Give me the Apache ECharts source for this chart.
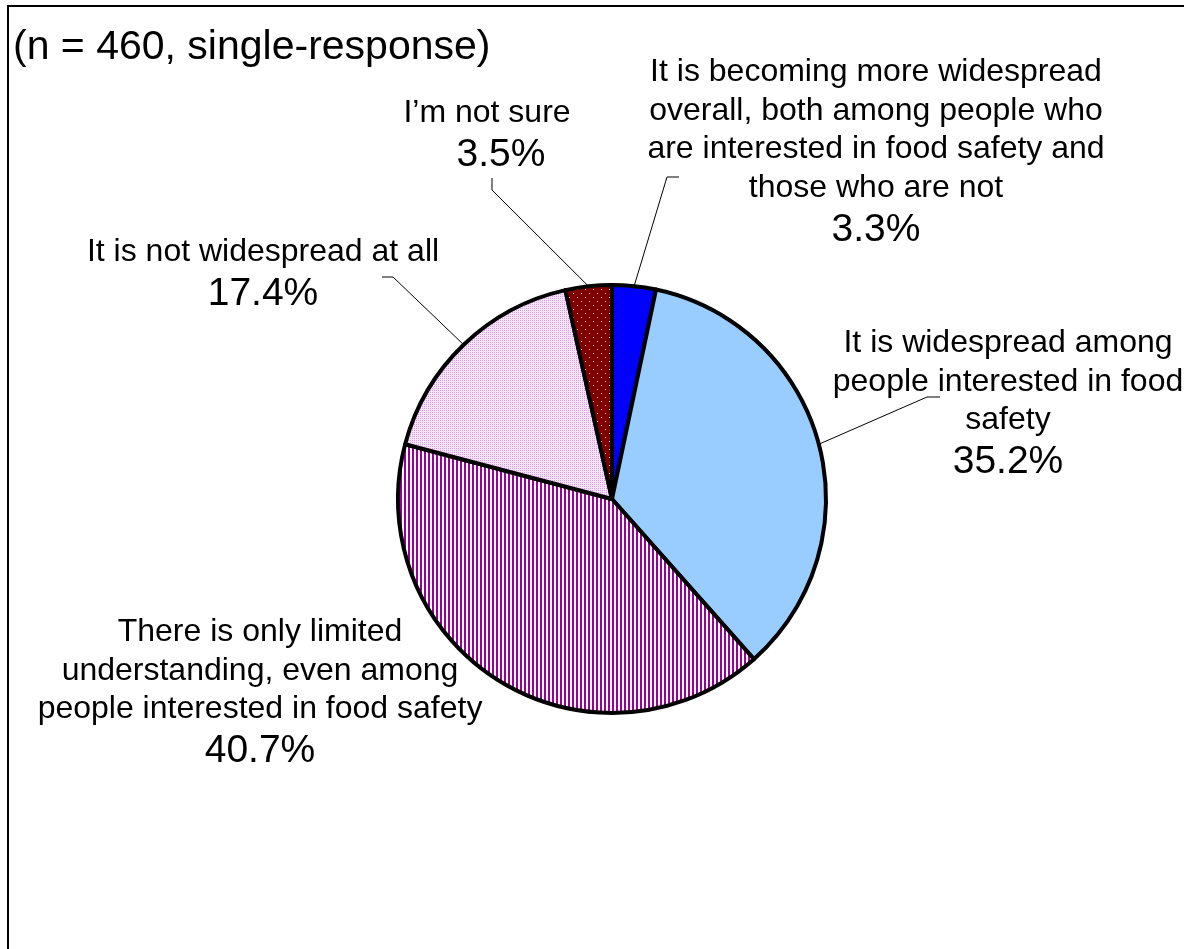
<!DOCTYPE html>
<html>
<head>
<meta charset="utf-8">
<script src="https://cdn.jsdelivr.net/npm/echarts@6/dist/echarts.min.js"></script>
<style>
html,body{margin:0;padding:0;background:#fff;}
#chart{width:1184px;height:949px;}
</style>
</head>
<body>
<div id="chart"></div>
<script>
// ---- data ----
const categories = [
  'It is becoming more widespread\noverall, both among people who\nare interested in food safety and\nthose who are not',
  'It is widespread among\npeople interested in food\nsafety',
  'There is only limited\nunderstanding, even among\npeople interested in food safety',
  'It is not widespread at all',
  'I\u2019m not sure'
];
const values = [3.3, 35.2, 40.7, 17.4, 3.5];
const subtitle = '(n = 460, single-response)';

// ---- patterns ----
function makePattern(w, h, bg, dots, dotColor) {
  const c = document.createElement('canvas');
  c.width = w; c.height = h;
  const ctx = c.getContext('2d');
  ctx.fillStyle = bg; ctx.fillRect(0, 0, w, h);
  ctx.fillStyle = dotColor;
  dots.forEach(d => ctx.fillRect(d[0], d[1], d[2] || 1, d[3] || 1));
  return { image: c, repeat: 'repeat' };
}
const stripePattern = makePattern(4, 4, '#ffffff', [[0, 0, 2, 4]], '#990099');
const pinkPattern = makePattern(2, 2, '#f8e4f9', [[0, 0]], '#d39ee0');
const redPattern = makePattern(8, 8, '#800000', [[1, 1], [5, 5]], '#f2d0d0');

const fills = ['#0000ff', '#99ccff', stripePattern, pinkPattern, redPattern];

// label layout (positions of the text blocks and elbow points)
const labelLayoutCfg = [
  { x: 876, y: 53, pts: [[667, 177], [679, 177]], pPad: 0 },
  { x: 1008, y: 324, pts: [[927, 397], [940, 397]], pPad: 0 },
  { x: 260, y: 613, pts: null, pPad: 0 },
  { x: 263, y: 233, pts: [[393, 277], [382, 277]], pPad: 0 },
  { x: 487, y: 94, pts: [[492, 190], [492, 178]], pPad: 28 }
];

const chart = echarts.init(document.getElementById('chart'), null, { renderer: 'canvas' });

const FONT = '"Liberation Sans", Arial, sans-serif';

const data = categories.map((name, i) => ({
  name: name,
  value: values[i],
  itemStyle: { color: fills[i] },
  labelLine: { show: labelLayoutCfg[i].pts !== null },
  label: {
    rich: {
      n: { fontSize: 32, lineHeight: 38.5, fontFamily: FONT, color: '#000', align: 'center' },
      p: { fontSize: 39, lineHeight: 46, fontFamily: FONT, color: '#000', align: 'center',
           padding: [0, 0, 0, labelLayoutCfg[i].pPad] }
    }
  }
}));

chart.setOption({
  animation: false,
  backgroundColor: '#ffffff',
  graphic: [
    {
      type: 'rect',
      shape: { x: 8, y: 6, width: 1300, height: 1100 },
      style: { fill: 'none', stroke: '#000', lineWidth: 2 },
      silent: true
    },
    {
      type: 'text',
      left: 13,
      top: 27,
      style: { text: subtitle, font: '41px ' + FONT, fill: '#000' },
      silent: true
    }
  ],
  series: [{
    type: 'pie',
    center: [612, 499],
    radius: 214,
    startAngle: 90,
    clockwise: true,
    data: data,
    emphasis: { disabled: true },
    itemStyle: { borderColor: '#000', borderWidth: 4 },
    label: {
      show: true,
      position: 'outside',
      color: '#000',
      fontFamily: FONT,
      overflow: 'none',
      formatter: function (p) {
        const lines = p.name.split('\n').map(l => '{n|' + l + '}').join('\n');
        return lines + '\n{p|' + p.value.toFixed(1) + '%}';
      }
    },
    labelLine: {
      show: true,
      length: 10,
      length2: 10,
      lineStyle: { color: '#000', width: 1 }
    },
    labelLayout: function (params) {
      const cfg = labelLayoutCfg[params.dataIndex];
      const out = { x: cfg.x, y: cfg.y, align: 'center', verticalAlign: 'top' };
      if (cfg.pts && params.labelLinePoints) {
        const p0 = params.labelLinePoints[0];
        out.labelLinePoints = [[p0[0], p0[1]], cfg.pts[0], cfg.pts[1]];
      }
      return out;
    }
  }]
});
</script>
</body>
</html>
